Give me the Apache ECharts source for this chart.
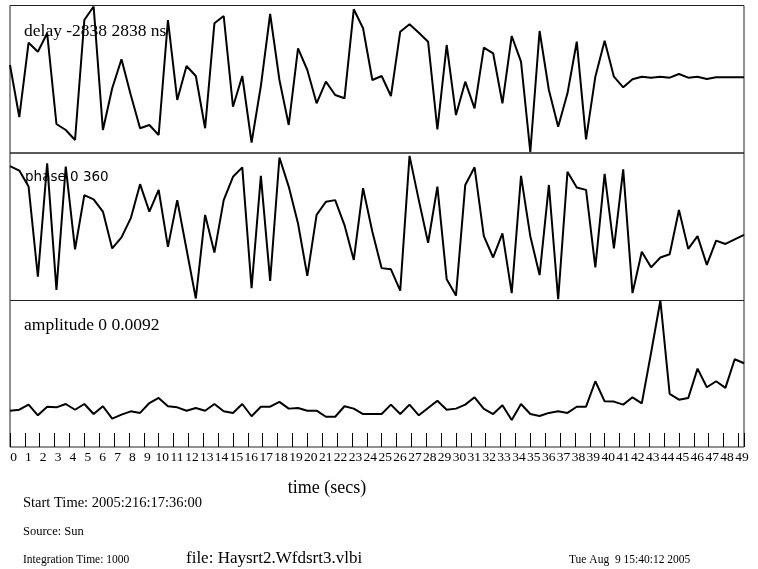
<!DOCTYPE html>
<html>
<head>
<meta charset="utf-8">
<script src="https://cdn.jsdelivr.net/npm/echarts@6/dist/echarts.min.js"></script>
<style>
html,body{margin:0;padding:0;background:#fff;}
#c{width:758px;height:569px;}
</style>
</head>
<body>
<div id="c"></div>
<script>
// ---- data ----
const sampleStepSec = 0.625;          // spacing between samples, seconds
const timeMaxSec = 49.375;            // last sample time
const timeTickLabels = [0,1,2,3,4,5,6,7,8,9,10,11,12,13,14,15,16,17,18,19,20,21,22,23,24,
  25,26,27,28,29,30,31,32,33,34,35,36,37,38,39,40,41,42,43,44,45,46,47,48,49];

const delayRange = [-2838, 2838];     // ns
const phaseRange = [0, 360];          // degrees
const amplitudeRange = [0, 0.0092];

const delayNs = [548, -1453, 1407, 1060, 1768, -1722, -1953, -2338, 2280, 2800,
  -1953, -348, 768, -606, -1887, -1760, -2145, 2280, -798, 510,
  125, -1887, 2153, 2434, -1056, 125, -2441, -260, 2511, -29,
  -1760, 1191, 356, -925, -94, -606, -733, 2692, 1961, -29,
  125, -644, 1830, 2115, 1791, 1445, -1926, 1318, -1376, -94,
  -1118, 1214, 999, -925, 1664, 675, -2800, 1857, -414, -1826,
  -541, 1445, -2311, 98, 1484, 98, -310, -2, 98, 60,
  98, 60, 202, 60, 98, 10, 75, 75, 75, 75];

const phaseDeg = [328, 317, 278, 58, 335, 26, 327, 125, 257, 247,
  217, 127, 154, 201, 284, 217, 270, 131, 245, 125,
  5, 209, 117, 245, 302, 325, 30, 304, 48, 349,
  278, 188, 60, 209, 241, 245, 184, 99, 274, 168,
  79, 76, 24, 353, 245, 141, 278, 52, 12, 282,
  325, 157, 105, 164, 18, 304, 157, 62, 282, 3,
  314, 276, 270, 81, 309, 127, 320, 18, 119, 81,
  105, 113, 221, 126, 157, 87, 146, 138, 149, 160];

const amplitude = [0.00228, 0.00234, 0.00266, 0.00199, 0.00253, 0.00249, 0.00270, 0.00234, 0.00270, 0.00207,
  0.00256, 0.00178, 0.00203, 0.00224, 0.00214, 0.00276, 0.00308, 0.00256, 0.00249, 0.00228,
  0.00245, 0.00228, 0.00270, 0.00224, 0.00214, 0.00270, 0.00193, 0.00253, 0.00253, 0.00283,
  0.00241, 0.00245, 0.00228, 0.00228, 0.00190, 0.00190, 0.00256, 0.00241, 0.00207, 0.00207,
  0.00207, 0.00266, 0.00207, 0.00266, 0.00199, 0.00245, 0.00291, 0.00234, 0.00241, 0.00266,
  0.00312, 0.00239, 0.00207, 0.00262, 0.00170, 0.00270, 0.00207, 0.00195, 0.00214, 0.00224,
  0.00214, 0.00253, 0.00253, 0.00413, 0.00287, 0.00285, 0.00266, 0.00312, 0.00274, 0.00592,
  0.0092, 0.00333, 0.00297, 0.00308, 0.00492, 0.00375, 0.00413, 0.00371, 0.00551, 0.00526];

const panelLabels = ['delay -2838 2838 ns', 'phase 0 360', 'amplitude 0 0.0092'];
const xAxisName = 'time (secs)';
const footer = {
  start: 'Start Time: 2005:216:17:36:00',
  source: 'Source: Sun',
  integ: 'Integration Time: 1000',
  file: 'file: Haysrt2.Wfdsrt3.vlbi',
  date: 'Tue Aug  9 15:40:12 2005'
};

// ---- build ----
const toPairs = arr => arr.map((v, i) => [i * sampleStepSec, v]);
const SERIF = '"Liberation Serif", "DejaVu Serif", serif';
const SANS = '"DejaVu Sans", sans-serif';

const grids = [
  {left: 10, width: 734, top: 5.5, height: 147.5},
  {left: 10, width: 734, top: 153, height: 147.5},
  {left: 10, width: 734, top: 300.5, height: 146.5}
].map(g => Object.assign(g, {show: true, borderColor: '#222', borderWidth: 1, backgroundColor: 'transparent'}));

const baseX = (gi, show) => ({
  type: 'value', gridIndex: gi, min: 0, max: timeMaxSec, interval: 1,
  axisLine: {show: false},
  splitLine: {show: false},
  axisTick: {show: show, inside: true, length: 14, lineStyle: {color: '#000', width: 1}},
  axisLabel: {
    show: show, margin: 3, color: '#000', fontFamily: SERIF, fontSize: 13.5,
    padding: [0, 0, 0, 7],
    formatter: v => timeTickLabels.indexOf(v) >= 0 ? String(v) : ''
  }
});
const baseY = (gi, range) => ({
  type: 'value', gridIndex: gi, min: range[0], max: range[1],
  axisLine: {show: false}, axisTick: {show: false}, axisLabel: {show: false}, splitLine: {show: false}
});
const lineSeries = (gi, arr) => ({
  type: 'line', xAxisIndex: gi, yAxisIndex: gi, data: toPairs(arr),
  showSymbol: false, symbol: 'none', smooth: false,
  lineStyle: {color: '#000', width: 2}, z: 5
});

const txt = (text, x, y, font, align) => ({
  type: 'text', x: x, y: y, z: 10,
  style: {text: text, font: font, fill: '#000', align: align || 'left', verticalAlign: 'middle'}
});

const option = {
  animation: false,
  backgroundColor: '#fff',
  grid: grids,
  xAxis: [baseX(0, false), baseX(1, false), baseX(2, true)],
  yAxis: [baseY(0, delayRange), baseY(1, phaseRange), baseY(2, amplitudeRange)],
  series: [lineSeries(0, delayNs), lineSeries(1, phaseDeg), lineSeries(2, amplitude)],
  graphic: [
    txt(panelLabels[0], 24, 31, '17.5px ' + SERIF),
    txt(panelLabels[1], 25, 177, '13.5px ' + SANS),
    txt(panelLabels[2], 24, 325, '17.5px ' + SERIF),
    txt(xAxisName, 327, 488, '18px ' + SERIF, 'center'),
    txt(footer.start, 23, 503, '14.5px ' + SERIF),
    txt(footer.source, 23, 532, '12.5px ' + SERIF),
    txt(footer.integ, 23, 560, '11.5px ' + SERIF),
    txt(footer.file, 186, 559, '17px ' + SERIF),
    txt(footer.date, 569, 560, '11.5px ' + SERIF)
  ]
};

const chart = echarts.init(document.getElementById('c'), null, {renderer: 'canvas'});
chart.setOption(option);
</script>
</body>
</html>
